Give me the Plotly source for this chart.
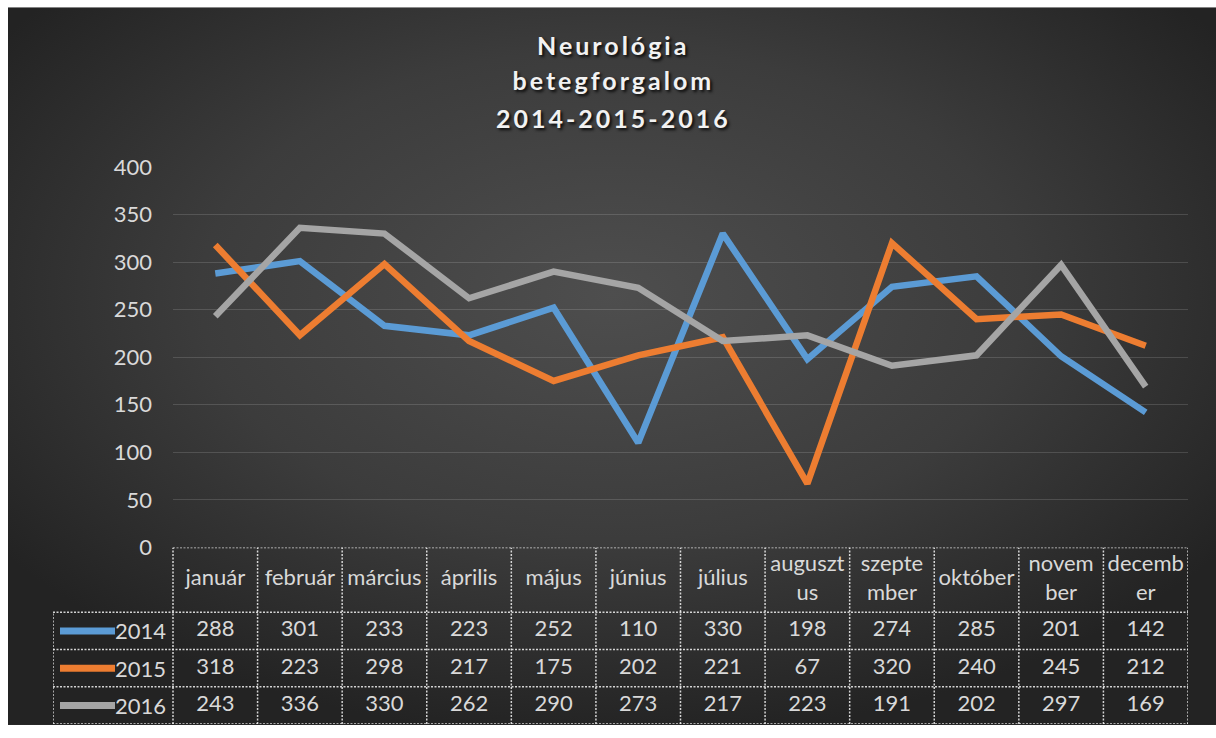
import base64
import plotly.graph_objects as go

# ---------------- data ----------------
months = ["január", "február", "március", "április", "május", "június",
          "július", "augusztus", "szeptember", "október", "november", "december"]
month_labels = ["január", "február", "március", "április", "május", "június",
                "július", "auguszt<br>us", "szepte<br>mber", "október", "novem<br>ber", "decemb<br>er"]
series_names = ["2014", "2015", "2016"]
v2014 = [288, 301, 233, 223, 252, 110, 330, 198, 274, 285, 201, 142]
v2015 = [318, 223, 298, 217, 175, 202, 221, 67, 320, 240, 245, 212]
v2016 = [243, 336, 330, 262, 290, 273, 217, 223, 191, 202, 297, 169]
y_ticks = [0, 50, 100, 150, 200, 250, 300, 350, 400]
title_lines = ["Neurológia", "betegforgalom", "2014-2015-2016"]

values = [v2014, v2015, v2016]
colors = ["#5B9BD5", "#ED7D31", "#A5A5A5"]

# ---------------- layout geometry ----------------
W, H = 1216, 738
# vertical mapping of the photographed page (observed): shot = S*fig + OFF
S, OFF = 738 / 754, 3.5


def fy(y_shot):
    return (y_shot - OFF) / S


ML, MR = 53, 28
MT = fy(167)
plot_bottom = H - 1
MB = H - plot_bottom
plot_w = W - ML - MR
plot_h = plot_bottom - MT
chart_left_px = 173
table_top_px = fy(548)
header_bot_px = fy(613)
split = (plot_bottom - table_top_px) / plot_h
cat_px = (W - MR - chart_left_px) / len(months)
legend_w_cat = (chart_left_px - ML) / cat_px
x2_left = -0.5 - legend_w_cat

ROW_H = 1.0
row_px = (plot_bottom - header_bot_px) / 3
HEADER_H = (header_bot_px - table_top_px) / row_px
TABLE_TOP = 3 * ROW_H + HEADER_H

font = "Lato, 'Open Sans', sans-serif"
txt_col = "#d9d9d9"
fs = 22

fig = go.Figure()

for name, vals, col in zip(series_names, values, colors):
    fig.add_trace(go.Scatter(
        x=months, y=vals, name=name, mode="lines",
        line=dict(color=col, width=6.5), xaxis="x", yaxis="y",
        showlegend=False, hoverinfo="x+y+name"))

for r, (name, vals) in enumerate(zip(series_names, values)):
    ypos = TABLE_TOP - HEADER_H - (r + 0.5) * ROW_H
    fig.add_trace(go.Scatter(
        x=months, y=[ypos] * len(months), mode="text",
        text=[str(v) for v in vals], textposition="middle center",
        textfont=dict(family=font, size=fs, color=txt_col),
        xaxis="x2", yaxis="y2", showlegend=False, hoverinfo="skip"))

fig.add_trace(go.Scatter(
    x=months, y=[TABLE_TOP - HEADER_H / 2] * len(months), mode="text",
    text=month_labels, textposition="middle center",
    textfont=dict(family=font, size=fs, color=txt_col),
    xaxis="x2", yaxis="y2", showlegend=False, hoverinfo="skip"))

annotations = []
title_y_px = [45, 80, 118]
for line, ypx in zip(title_lines, title_y_px):
    annotations.append(dict(xref="paper", yref="paper",
                            x=(613 - ML) / plot_w, y=(plot_bottom - fy(ypx)) / plot_h,
                            text="<b>" + line + "</b>", showarrow=False,
                            xanchor="center", yanchor="middle",
                            font=dict(family=font, size=25, color="#f2f2f2",
                                      shadow="2px 2px 3px rgba(0,0,0,0.85)")))

shapes = []
border = dict(color="rgba(255,255,255,0.8)", width=1.5, dash="2px,1.5px")
for k in range(len(months) + 1):
    shapes.append(dict(type="line", xref="x2", yref="y2",
                       x0=k - 0.5, x1=k - 0.5, y0=0, y1=TABLE_TOP, line=border))
shapes.append(dict(type="line", xref="x2", yref="y2",
                   x0=x2_left, x1=x2_left, y0=0, y1=3 * ROW_H, line=border))
shapes.append(dict(type="line", xref="x2", yref="y2",
                   x0=-0.5, x1=len(months) - 0.5, y0=TABLE_TOP, y1=TABLE_TOP, line=border))
for r in range(4):
    shapes.append(dict(type="line", xref="x2", yref="y2",
                       x0=x2_left, x1=len(months) - 0.5, y0=r * ROW_H, y1=r * ROW_H, line=border))

for r, (name, col) in enumerate(zip(series_names, colors)):
    ypos = TABLE_TOP - HEADER_H - (r + 0.5) * ROW_H
    shapes.append(dict(type="line", xref="x2", yref="y2",
                       x0=x2_left + 7 / cat_px, x1=x2_left + 62 / cat_px,
                       y0=ypos, y1=ypos, line=dict(color=col, width=7)))
    annotations.append(dict(xref="x2", yref="y2", x=-0.5 - 5 / cat_px, y=ypos,
                            text=name, showarrow=False, xanchor="right", yanchor="middle",
                            font=dict(family=font, size=fs, color=txt_col)))

# background gradient (white strip at top/left as in the reference)
bg_x0, bg_y0 = 8, max(fy(7), 0)
bw, bh = W - bg_x0, H - bg_y0
svg = ('<svg xmlns="http://www.w3.org/2000/svg" width="%d" height="%d" '
       'viewBox="0 0 %d %d" preserveAspectRatio="none"><defs>'
       '<radialGradient id="g" cx="0.5" cy="0.4" r="0.62">'
       '<stop offset="0" stop-color="#4e4e4e"/><stop offset="0.55" stop-color="#3c3c3c"/>'
       '<stop offset="1" stop-color="#232323"/></radialGradient></defs>'
       '<rect width="%d" height="%d" fill="url(#g)"/></svg>') % (bw, bh, bw, bh, bw, bh)
src = "data:image/svg+xml;base64," + base64.b64encode(svg.encode()).decode()
images = [dict(source=src, xref="paper", yref="paper",
               x=(bg_x0 - ML) / plot_w, y=(plot_bottom - bg_y0) / plot_h,
               sizex=bw / plot_w, sizey=bh / plot_h,
               xanchor="left", yanchor="top", sizing="stretch", layer="below")]

fig.update_layout(
    width=W, height=H, autosize=False,
    margin=dict(l=ML, r=MR, t=MT, b=MB, pad=0),
    paper_bgcolor="white", plot_bgcolor="rgba(0,0,0,0)",
    font=dict(family=font, color=txt_col),
    showlegend=False,
    xaxis=dict(domain=[(chart_left_px - ML) / plot_w, 1], anchor="y",
               type="category", categoryarray=months, categoryorder="array",
               range=[-0.5, len(months) - 0.5], showticklabels=False,
               showgrid=False, zeroline=False, showline=False, ticks=""),
    yaxis=dict(domain=[split, 1], anchor="x", range=[0, 400], tickvals=y_ticks,
               showgrid=True, gridcolor="rgba(255,255,255,0.14)", gridwidth=1,
               zeroline=False, showline=False, ticks="",
               ticklabelstandoff=20,
               tickfont=dict(family=font, size=fs, color=txt_col)),
    xaxis2=dict(domain=[0, 1], anchor="y2", type="category",
                categoryarray=months, categoryorder="array",
                range=[x2_left, len(months) - 0.5], showticklabels=False,
                showgrid=False, zeroline=False, showline=False, ticks=""),
    yaxis2=dict(domain=[0, split], anchor="x2", range=[0, TABLE_TOP],
                showticklabels=False, showgrid=False, zeroline=False,
                showline=False, ticks=""),
    shapes=shapes, annotations=annotations, images=images,
)

post = ("var css='margin:0;padding:0;overflow:hidden;width:%dpx;height:%dpx;background:#242424;';"
        "document.documentElement.style.cssText=css;document.body.style.cssText=css;"
        "var gd=document.getElementById('{plot_id}');"
        "gd.parentElement.style.cssText='margin:0;padding:0;line-height:0;font-size:0;';"
        "gd.style.display='block';"
        "function sp(){['0','1','2'].forEach(function(i){"
        "var t=gd.querySelector('g.annotation[data-index=\"'+i+'\"] text');"
        "if(t){t.style.letterSpacing='3px';}});}"
        "sp(); if(gd.on){gd.on('plotly_afterplot', sp);}") % (W, H)

fig.write_html("out.html", post_script=post, config={"displayModeBar": False})
